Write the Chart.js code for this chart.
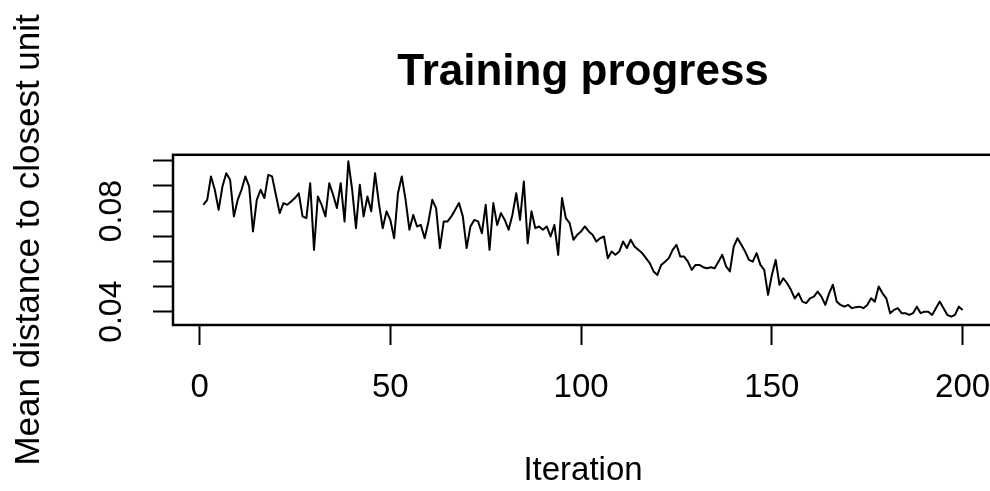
<!DOCTYPE html>
<html>
<head>
<meta charset="utf-8">
<script src="https://cdn.jsdelivr.net/npm/chart.js@4/dist/chart.umd.min.js"></script>
<style>
  html, body { margin: 0; padding: 0; background: #fff; overflow: hidden; }
  #wrap { width: 1000px; height: 491px; }
</style>
</head>
<body>
<div id="wrap"><canvas id="trainChart" width="1000" height="491"></canvas></div>
<script>
// mean distance to closest unit, one value per iteration (1..200)
const distances = [
  0.0825, 0.0845, 0.0938, 0.0885, 0.0805, 0.0898, 0.0951, 0.0925, 0.0779, 0.0845,
  0.0885, 0.0938, 0.0898, 0.0719, 0.0845, 0.0885, 0.0852, 0.0944, 0.0938, 0.0865,
  0.0792, 0.0832, 0.0825, 0.0838, 0.0852, 0.0871, 0.0779, 0.0772, 0.0911, 0.0646,
  0.0858, 0.0825, 0.0779, 0.0911, 0.0865, 0.0812, 0.0911, 0.0759, 0.0998, 0.0885,
  0.0732, 0.0905, 0.0779, 0.0858, 0.0799, 0.0951, 0.0832, 0.0732, 0.0799, 0.0765,
  0.0692, 0.0871, 0.0938, 0.0845, 0.0726, 0.0785, 0.0739, 0.0745, 0.0692, 0.0759,
  0.0845, 0.0812, 0.0653, 0.0759, 0.0759, 0.0779, 0.0805, 0.0832, 0.0779, 0.0653,
  0.0739, 0.0765, 0.0759, 0.0712, 0.0825, 0.0646, 0.0832, 0.0745, 0.0792, 0.0765,
  0.0726, 0.0785, 0.0871, 0.0765, 0.0918, 0.0672, 0.0799, 0.0732, 0.0739, 0.0726,
  0.0739, 0.0699, 0.0745, 0.0626, 0.0852, 0.0772, 0.0752, 0.0686, 0.0706, 0.0719,
  0.0739, 0.0719, 0.0706, 0.0679, 0.0692, 0.0699, 0.0613, 0.0639, 0.0626, 0.0639,
  0.0679, 0.0653, 0.0686, 0.0659, 0.0646, 0.0633, 0.0613, 0.0593, 0.0560, 0.0546,
  0.0586, 0.0599, 0.0613, 0.0646, 0.0666, 0.0619, 0.0619, 0.0599, 0.0566, 0.0586,
  0.0586, 0.0577, 0.0573, 0.0577, 0.0573, 0.0599, 0.0626, 0.0580, 0.0560, 0.0659,
  0.0692, 0.0666, 0.0639, 0.0606, 0.0599, 0.0633, 0.0586, 0.0566, 0.0467, 0.0546,
  0.0606, 0.0507, 0.0533, 0.0513, 0.0487, 0.0453, 0.0473, 0.0440, 0.0434, 0.0453,
  0.0460, 0.0480, 0.0460, 0.0427, 0.0473, 0.0507, 0.0440, 0.0427, 0.0420, 0.0427,
  0.0414, 0.0418, 0.0420, 0.0414, 0.0427, 0.0453, 0.0440, 0.0500, 0.0473, 0.0453,
  0.0394, 0.0407, 0.0414, 0.0394, 0.0394, 0.0387, 0.0394, 0.0420, 0.0394, 0.0400,
  0.0400, 0.0387, 0.0414, 0.0440, 0.0414, 0.0387, 0.0380, 0.0387, 0.0420, 0.0407
];
const iterations = distances.map((d, i) => i + 1);

const xTicks = [0, 50, 100, 150, 200];
const yTicks = [0.04, 0.05, 0.06, 0.07, 0.08, 0.09, 0.10];
const yTickLabels = ['0.04', '', '', '', '0.08', '', ''];

const FONT = '"Liberation Sans", Arial, Helvetica, sans-serif';
Chart.defaults.color = '#000';
Chart.defaults.font.family = FONT;

// R style box around the plot region
const boxPlugin = {
  id: 'plotBox',
  afterDatasetsDraw(chart) {
    const { ctx, chartArea: a } = chart;
    ctx.save();
    ctx.strokeStyle = '#000';
    ctx.lineWidth = 2.5;
    ctx.strokeRect(a.left, a.top, a.right - a.left, a.bottom - a.top);
    ctx.restore();
  }
};

// keep axis label overhang from pushing the plot region around
function noOverhang(s) {
  s.paddingLeft = 0;
  s.paddingRight = 0;
  s.paddingTop = 0;
  s.paddingBottom = 0;
}

const ctx = document.getElementById('trainChart').getContext('2d');

new Chart(ctx, {
  type: 'line',
  data: {
    datasets: [{
      data: iterations.map((it, i) => ({ x: it, y: distances[i] })),
      borderColor: '#000',
      borderWidth: 2,
      pointRadius: 0,
      tension: 0,
      borderJoinStyle: 'round',
      fill: false
    }]
  },
  options: {
    responsive: false,
    animation: false,
    layout: { padding: { left: 0, right: 7, top: 0, bottom: 0 } },
    plugins: {
      legend: { display: false },
      tooltip: { enabled: false },
      title: {
        display: true,
        text: 'Training progress',
        fullSize: false,
        color: '#000',
        font: { family: FONT, size: 44, weight: 'bold' },
        padding: { top: 46, bottom: 56 }
      }
    },
    scales: {
      x: {
        type: 'linear',
        min: -6.96,
        max: 207.96,
        afterBuildTicks: s => { s.ticks = xTicks.map(v => ({ value: v })); },
        afterFit: s => { s.height = 166; noOverhang(s); },
        grid: { drawOnChartArea: false, drawTicks: true, tickLength: 20, tickWidth: 2, tickColor: '#000' },
        border: { display: false },
        ticks: { font: { size: 33 }, padding: 23, color: '#000', maxRotation: 0, autoSkip: false },
        title: { display: true, text: 'Iteration', font: { size: 33 }, color: '#000', padding: { top: 0, bottom: 0 } }
      },
      y: {
        type: 'linear',
        min: 0.0347,
        max: 0.1024,
        afterBuildTicks: s => { s.ticks = yTicks.map(v => ({ value: v })); },
        afterFit: s => { s.width = 173; noOverhang(s); },
        grid: { drawOnChartArea: false, drawTicks: true, tickLength: 20, tickWidth: 2, tickColor: '#000' },
        border: { display: false },
        ticks: {
          font: { size: 32 },
          color: '#000',
          minRotation: 90,
          maxRotation: 90,
          crossAlign: 'center',
          padding: 10,
          autoSkip: false,
          callback: (v, i) => yTickLabels[i]
        },
        title: { display: true, text: 'Mean distance to closest unit', font: { size: 35 }, color: '#000', padding: { top: 8, bottom: 0 } }
      }
    }
  },
  plugins: [boxPlugin]
});
</script>
</body>
</html>
